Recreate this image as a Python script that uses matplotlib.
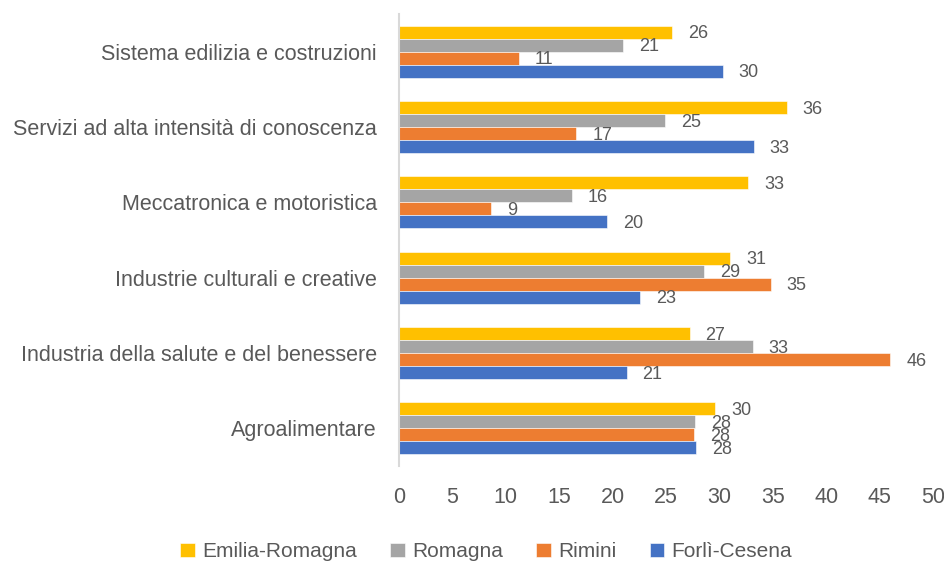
# -*- coding: utf-8 -*-
"""Grouped horizontal bars: share by sector and area."""

import numpy as np
import matplotlib
matplotlib.use("Agg")
import matplotlib.pyplot as plt

categories = [
    "Sistema edilizia e costruzioni",
    "Servizi ad alta intensità di conoscenza",
    "Meccatronica e motoristica",
    "Industrie culturali e creative",
    "Industria della salute e del benessere",
    "Agroalimentare",
]
series_names = ["Emilia-Romagna", "Romagna", "Rimini", "Forlì-Cesena"]
emilia_romagna = [25.6, 36.3, 32.7, 31.0, 27.2, 29.6]
romagna = [21.0, 24.9, 16.2, 28.6, 33.1, 27.7]
rimini = [11.2, 16.6, 8.6, 34.8, 46.0, 27.6]
forli_cesena = [30.3, 33.2, 19.5, 22.6, 21.3, 27.8]
x_ticks = [0, 5, 10, 15, 20, 25, 30, 35, 40, 45, 50]

colors = ["#FFC000", "#A5A5A5", "#ED7D31", "#4472C4"]
text_color = "#595959"


def main():
    plt.rcParams["font.family"] = ["Liberation Sans", "DejaVu Sans"]

    fig = plt.figure(figsize=(9.44, 5.62), dpi=100)
    ax = fig.add_axes([0.4227, 0.1708, 0.5657, 0.8043])

    all_series = [emilia_romagna, romagna, rimini, forli_cesena]
    y = np.arange(len(categories))
    h = 0.1725

    for i, (name, vals) in enumerate(zip(series_names, all_series)):
        pos = y + (i - 1.5) * h
        bars = ax.barh(pos, vals, height=h, color=colors[i], label=name,
                       edgecolor="white", linewidth=0.4)
        for b, v in zip(bars, vals):
            ax.annotate("{0:.0f}".format(v),
                        (b.get_width(), b.get_y() + b.get_height() / 2),
                        xytext=(11.5, -1.2), textcoords="offset points",
                        ha="left", va="center", fontsize=13,
                        color=text_color)

    ax.set_xlim(0, 50)
    ax.set_ylim(len(categories) - 0.5, -0.5)
    ax.set_xticks(x_ticks)
    ax.set_yticks(y)
    ax.set_yticklabels(categories)

    for side in ["top", "right", "bottom"]:
        ax.spines[side].set_visible(False)
    ax.spines["left"].set_color("#D9D9D9")
    ax.spines["left"].set_linewidth(1.5)

    ax.tick_params(axis="x", length=0, pad=15, labelsize=15.5,
                   labelcolor=text_color)
    ax.tick_params(axis="y", length=0, pad=16, labelsize=15.5,
                   labelcolor=text_color)

    handles, labels = ax.get_legend_handles_labels()
    fig.legend(handles, labels, loc="lower center", ncol=4,
               bbox_to_anchor=(0.515, -0.032), frameon=False,
               fontsize=15, handlelength=0.7, handleheight=0.7,
               handletextpad=0.35, columnspacing=1.6,
               labelcolor=text_color)

    fig.savefig("out.png", dpi=100)


if __name__ == "__main__":
    main()
